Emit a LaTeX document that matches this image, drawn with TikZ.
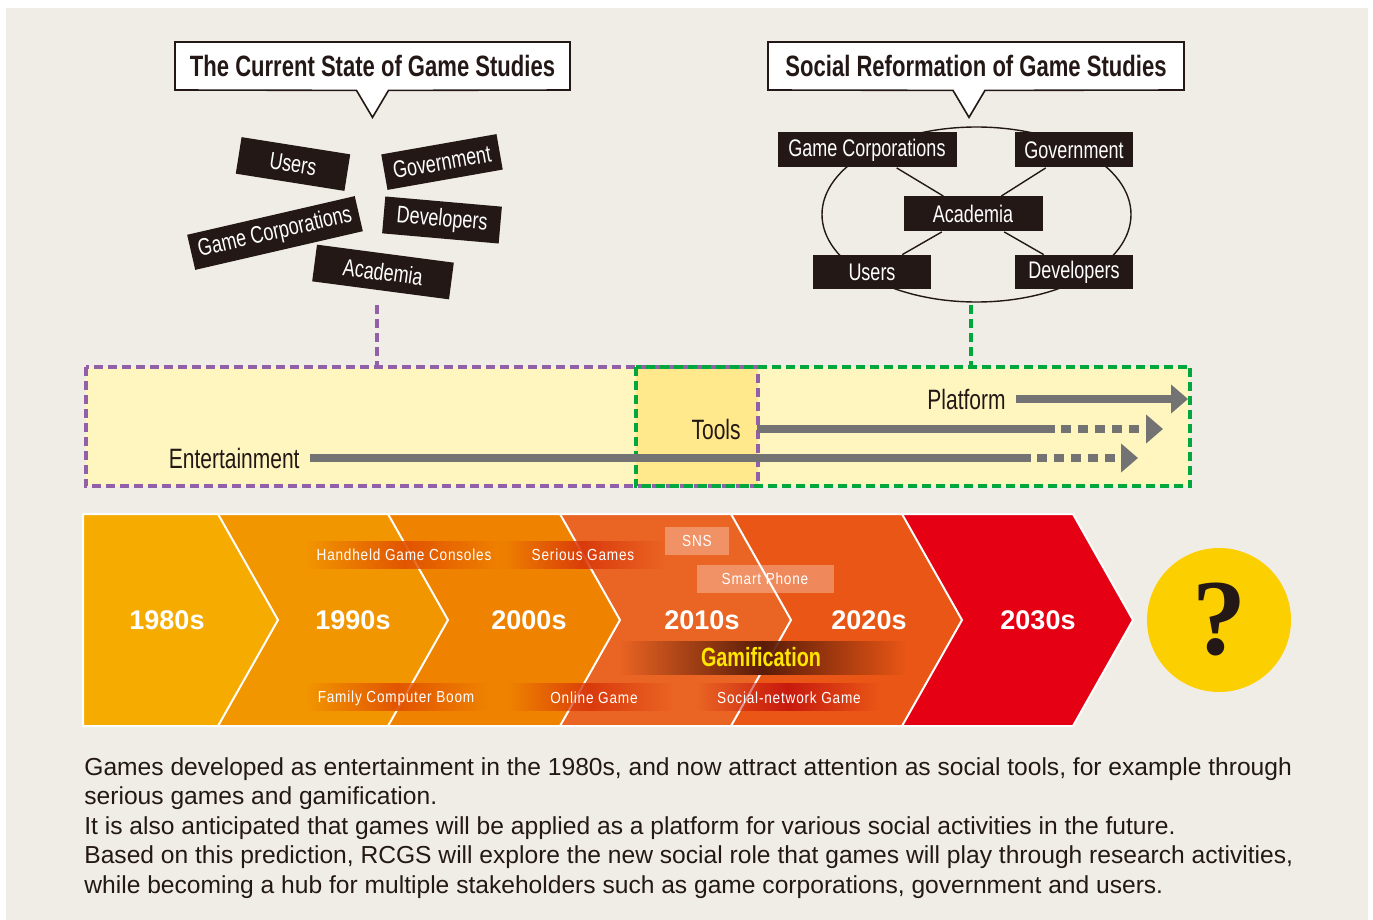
\documentclass[tikz,border=0pt]{standalone}
\usepackage{fontspec}
\setmainfont{Liberation Sans}
\newfontfamily\condfont[FakeStretch=0.75]{Liberation Sans}
\newfontfamily\trendfont[FakeStretch=0.85,LetterSpace=5]{Liberation Sans}
\newfontfamily\qfont{Liberation Serif}
\usetikzlibrary{calc,arrows.meta,fadings,positioning}
\definecolor{paper}{HTML}{F0EDE6}
\definecolor{ink}{HTML}{231815}
\definecolor{purp}{HTML}{9160A8}
\definecolor{grn}{HTML}{00A73C}
\definecolor{paleyel}{HTML}{FFF5BF}
\definecolor{midyel}{HTML}{FFE98C}
\definecolor{bargray}{HTML}{737373}
\definecolor{cA}{HTML}{F6AB00}
\definecolor{cB}{HTML}{F29600}
\definecolor{cC}{HTML}{EF8300}
\definecolor{cD}{HTML}{EA6423}
\definecolor{cE}{HTML}{E95616}
\definecolor{cF}{HTML}{E60013}
\definecolor{qyel}{HTML}{FCD000}
\definecolor{gamiyel}{HTML}{FFE600}
\definecolor{bandA}{HTML}{E04E00}
\definecolor{bandB}{HTML}{D8360A}
\definecolor{bandC}{HTML}{C4140E}
\definecolor{bandD}{HTML}{5A1C08}
\tikzfading[name=fadesides, left color=transparent!100, right color=transparent!100, middle color=transparent!0]
\begin{document}
\begin{tikzpicture}[x=0.5pt,y=-0.5pt,
	tag/.style={fill=ink, text=white, inner sep=0pt, font=\condfont\fontsize{12}{12}\selectfont},
	callout/.style={fill=white, draw=ink, line width=0.8pt},
	title/.style={font=\condfont\bfseries\fontsize{14.7}{14.7}\selectfont, text=ink, minimum height=24pt, inner sep=0pt},
	stage/.style={text=ink, font=\condfont\fontsize{14}{14}\selectfont, inner sep=0pt},
	bar/.style={draw=bargray, line width=4pt},
	dashbar/.style={bar, dash pattern=on 5pt off 3.5pt},
	tipbar/.style={-{Triangle[length=8.5pt,width=14pt]}},
	decade/.style={text=white, font=\bfseries\fontsize{13.5}{13.5}\selectfont},
	trend/.style={text=white, font=\trendfont\fontsize{8}{8}\selectfont, inner sep=0pt},
	dashbox/.style={line width=2pt, dash pattern=on 4.5pt off 2.5pt}]
	\useasboundingbox (0,0) rectangle (1373,920);
	\fill[white] (0,0) rectangle (1373,920);
	\fill[paper] (6,8) rectangle (1368,920);

	% callouts
	\node[title] (cur) at (372.5,66) {The Current State of Game Studies};
	\draw[callout] (175,42) -- (570,42) -- (570,90) -- ($(cur.south)+(16,0)$) -- ($(cur.south)+(0,27)$) -- ($(cur.south)+(-16,0)$) -- (175,90) -- cycle;
	\node[title] at (cur) {The Current State of Game Studies};
	\node[title] (soc) at (976,66) {Social Reformation of Game Studies};
	\draw[callout] (768,42) -- (1184,42) -- (1184,90) -- ($(soc.south)+(9,0)$) -- ($(soc.south)+(-7,27)$) -- ($(soc.south)+(-23,0)$) -- (768,90) -- cycle;
	\node[title] at (soc) {Social Reformation of Game Studies};

	% scattered stakeholders
	\node[tag, minimum width=55pt, minimum height=18.5pt, rotate=-9] (lusr) at (293,164) {Users};
	\node[tag, minimum width=58.5pt, minimum height=18pt, rotate=10] (lgov) at (442,162) {Government};
	\node[tag, minimum width=86pt, minimum height=18pt, rotate=13] (lgc) at (275,233) {Game Corporations};
	\node[tag, minimum width=58.5pt, minimum height=18.5pt, rotate=-5] (ldev) at (442,220) {Developers};
	\node[tag, minimum width=69pt, minimum height=18.5pt, rotate=-7.5] (lac) at (383,272) {Academia};
	\coordinate (curtags) at (377,305);

	% linked stakeholders
	\draw[ink, line width=0.7pt] (976.5,214.5) ellipse [x radius=154.5, y radius=87.5];
	\node[tag, minimum width=89.5pt, minimum height=17.5pt] (rgc) at (867,150) {Game Corporations};
	\node[tag, minimum width=59pt, minimum height=17.5pt] (rgov) at (1074,150) {Government};
	\node[tag, minimum width=69.5pt, minimum height=17.5pt] (rac) at (973,214) {Academia};
	\node[tag, minimum width=59pt, minimum height=17pt] (rusr) at (872,272) {Users};
	\node[tag, minimum width=59pt, minimum height=17pt] (rdev) at (1074,272) {Developers};
	\foreach \n in {rgc,rgov,rusr,rdev}{
		\draw[ink, line width=0.7pt] (\n) -- (rac);
	}
	\coordinate (soctags) at (971,305);

	% roles of games
	\node[fill=paleyel, minimum width=336pt, minimum height=59.5pt, inner sep=0pt] (curbox) at (422,426.5) {};
	\node[fill=paleyel, minimum width=277pt, minimum height=59.5pt, inner sep=0pt] (socbox) at (913,426.5) {};
	\fill[midyel] (636,367) rectangle (758,486);
	\draw[purp, dashbox] (curbox.north west) rectangle (curbox.south east);
	\draw[grn, dashbox] (socbox.north west) rectangle (socbox.south east);
	\draw[purp, dashbox] (curtags) -- (curtags |- curbox.north);
	\draw[grn, dashbox] (soctags) -- (soctags |- socbox.north);

	\node[stage, anchor=east] (ent) at (300,458) {Entertainment};
	\node[stage, anchor=east] (tool) at (741,429) {Tools};
	\node[stage, anchor=east] (plat) at (1006,399) {Platform};
	\coordinate (entend) at (1031,458);
	\coordinate (toolend) at (1055,429);
	\draw[bar] ([xshift=5pt]ent.east) -- (entend);
	\draw[dashbar, tipbar] ([xshift=3pt]entend) -- (1138,458);
	\draw[bar] ([xshift=8pt]tool.east) -- (toolend);
	\draw[dashbar, tipbar] ([xshift=3pt]toolend) -- (1163,429);
	\draw[bar, tipbar] ([xshift=5pt]plat.east) -- (1188,399);

	% decades
	\foreach \l/\r/\n/\c in {83/218/0/cA, 218/388/60/cB, 388/560/60/cC, 560/731/60/cD, 731/902/60/cE, 902/1073/60/cF}{
		\fill[\c] (\l,514) -- (\r,514) -- (\r+60,620) -- (\r,726) -- (\l,726) -- (\l+\n,620) -- cycle;
	}
	\foreach \r in {218,388,560,731,902}{
		\draw[white, line width=1pt] (\r,514) -- (\r+60,620) -- (\r,726);
	}
	\draw[white, line width=1pt] (83,514) -- (1073,514) -- (1133,620) -- (1073,726) -- (83,726) -- cycle;

	\fill[bandA, path fading=fadesides, opacity=0.9] (306,541) rectangle (504,569);
	\fill[bandB, path fading=fadesides, opacity=0.9] (500,541) rectangle (664,569);
	\fill[bandA, path fading=fadesides, opacity=0.9] (306,683) rectangle (488,711);
	\fill[bandB, path fading=fadesides, opacity=0.9] (508,683) rectangle (672,711);
	\fill[bandC, path fading=fadesides, opacity=0.9] (698,683) rectangle (878,711);
	\fill[bandD, path fading=fadesides] (620,641) rectangle (905,675);
	\fill[white, opacity=0.3] (665,527) rectangle (729,555);
	\fill[white, opacity=0.3] (697,565) rectangle (834,593);

	\node[trend] (hgc) at (404,555) {Handheld Game Consoles};
	\node[trend] (ser) at (583,555) {Serious Games};
	\node[trend] (fcb) at (396,698) {Family Computer Boom};
	\node[trend] (onl) at (594,698) {Online Game};
	\node[trend] (sng) at (789,698) {Social-network Game};
	\node[trend] (sns) at (697,541) {SNS};
	\node[trend] (smp) at (765,579) {Smart Phone};
	\node[text=gamiyel, font=\condfont\bfseries\fontsize{13.2}{13.2}\selectfont] (gami) at (761,657) {Gamification};

	\foreach \x/\t in {167/1980s, 353/1990s, 529/2000s, 702/2010s, 869/2020s, 1038/2030s}{
		\node[decade] (d\t) at (\x,620) {\t};
	}

	\node[circle, fill=qyel, minimum size=72pt, inner sep=0pt, font=\qfont\bfseries\fontsize{54}{54}\selectfont, text=ink] (future) at (1219,620) {?};

	% caption
	\node[anchor=north west, align=left, inner sep=0pt, text=ink, font=\fontsize{12.3}{14.75}\selectfont] (note) at (84,757) {Games developed as entertainment in the 1980s, and now attract attention as social tools, for example through\\
	serious games and gamification.\\
	It is also anticipated that games will be applied as a platform for various social activities in the future.\\
	Based on this prediction, RCGS will explore the new social role that games will play through research activities,\\
	while becoming a hub for multiple stakeholders such as game corporations, government and users.};
\end{tikzpicture}
\end{document}
